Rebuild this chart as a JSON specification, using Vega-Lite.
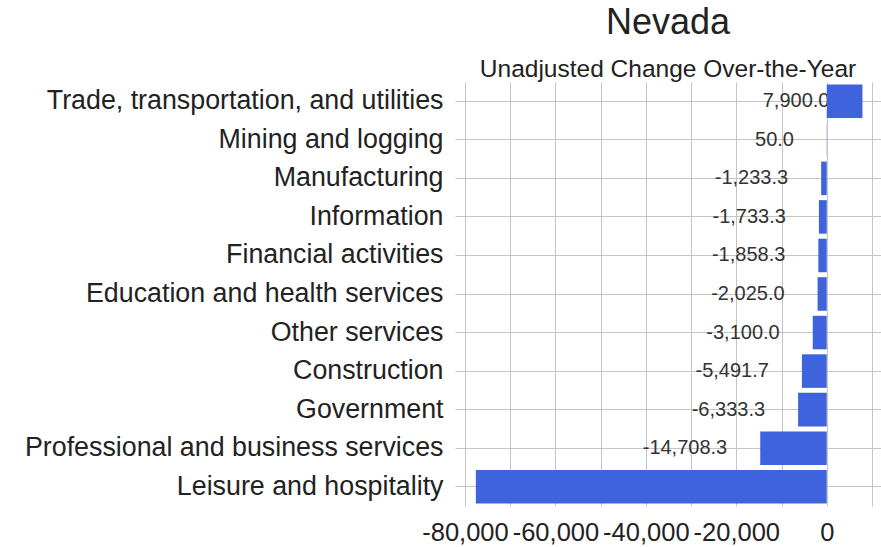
{
  "$schema": "https://vega.github.io/schema/vega-lite/v6.json",
  "autosize": {"type": "none"},
  "width": 416,
  "height": 424,
  "padding": {"left": 465, "top": 82, "right": 0, "bottom": 41},
  "background": "white",
  "config": {
    "font": "Liberation Sans",
    "locale": {"number": {"decimal": ".", "thousands": ",", "grouping": [3], "currency": ["$", ""], "minus": "-"}},
    "view": {"stroke": null},
    "axis": {"gridColor": "#c4c4c4", "gridWidth": 1, "domain": false, "labelColor": "#222", "labelFont": "Liberation Sans"}
  },
  "title": {
    "text": "Nevada",
    "subtitle": "Unadjusted Change Over-the-Year",
    "anchor": "middle",
    "font": "Liberation Sans",
    "subtitleFont": "Liberation Sans",
    "fontSize": 36,
    "fontWeight": "normal",
    "color": "#222",
    "subtitleFontSize": 24.5,
    "subtitleColor": "#222",
    "subtitlePadding": 16,
    "offset": 0,
    "dx": -5
  },
  "data": {
    "values": [
      {"industry": "Trade, transportation, and utilities", "change": 7900.0},
      {"industry": "Mining and logging", "change": 50.0},
      {"industry": "Manufacturing", "change": -1233.3},
      {"industry": "Information", "change": -1733.3},
      {"industry": "Financial activities", "change": -1858.3},
      {"industry": "Education and health services", "change": -2025.0},
      {"industry": "Other services", "change": -3100.0},
      {"industry": "Construction", "change": -5491.7},
      {"industry": "Government", "change": -6333.3},
      {"industry": "Professional and business services", "change": -14708.3},
      {"industry": "Leisure and hospitality", "change": -77600.0}
    ]
  },
  "encoding": {
    "y": {
      "field": "industry",
      "type": "nominal",
      "sort": ["Trade, transportation, and utilities", "Mining and logging", "Manufacturing", "Information", "Financial activities", "Education and health services", "Other services", "Construction", "Government", "Professional and business services", "Leisure and hospitality"],
      "scale": {"paddingInner": 0.13, "paddingOuter": 0.065},
      "axis": {
        "title": null,
        "labelFontSize": 26.8,
        "tickSize": 10,
        "tickColor": "#c4c4c4",
        "labelPadding": 12,
        "grid": true,
        "bandPosition": 0.5,
        "labelLimit": 0
      }
    },
    "x": {
      "field": "change",
      "type": "quantitative",
      "scale": {"domain": [-80000, 12000], "nice": false, "zero": false},
      "axis": {
        "title": null,
        "values": [-80000, -70000, -60000, -50000, -40000, -30000, -20000, -10000, 0, 10000],
        "labelExpr": "datum.value % 20000 === 0 ? format(datum.value, ',') : ''",
        "labelFontSize": 25.5,
        "labelOverlap": false,
        "labelFlush": false,
        "ticks": false,
        "labelPadding": 14,
        "grid": true
      }
    }
  },
  "layer": [
    {
      "mark": {"type": "text", "align": "right", "baseline": "middle", "dx": -33, "fontSize": 20, "color": "#333", "clip": true},
      "encoding": {
        "text": {
          "condition": {"test": "datum.change < -70000", "value": ""},
          "field": "change", "type": "quantitative", "format": ",.1f"
        }
      }
    },
    {
      "mark": {"type": "bar", "color": "#3f62dd"}
    }
  ]
}
